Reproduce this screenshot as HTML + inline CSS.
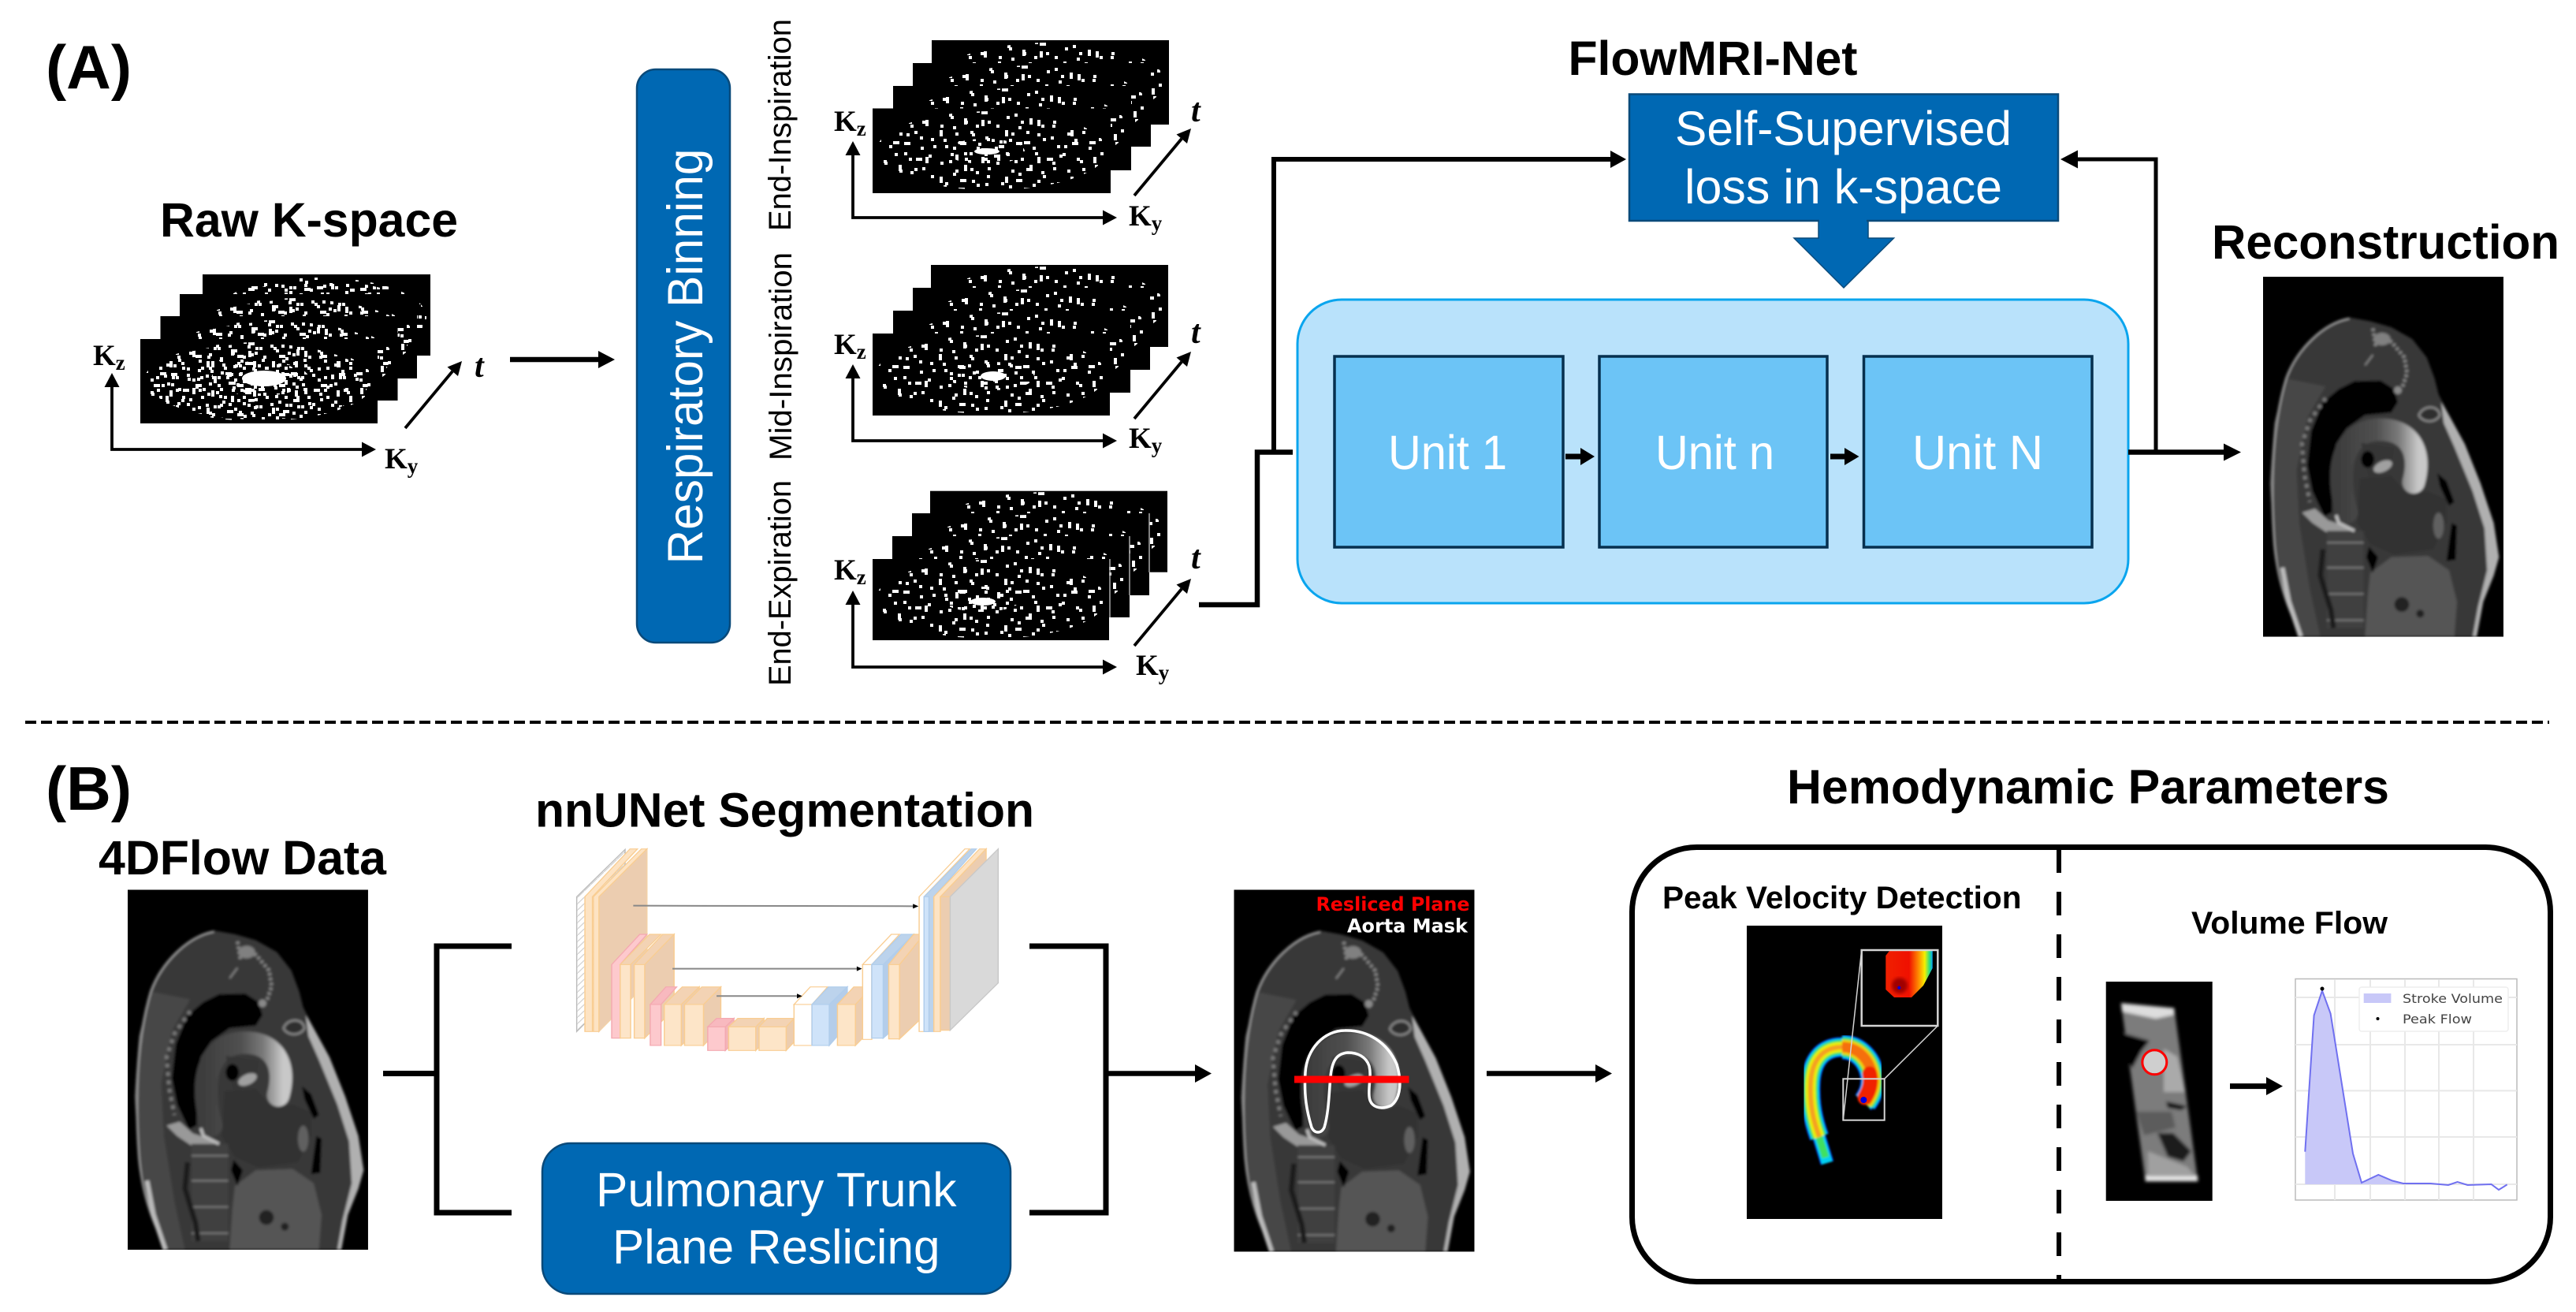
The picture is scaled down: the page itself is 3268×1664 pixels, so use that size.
<!DOCTYPE html>
<html><head><meta charset="utf-8"><title>FlowMRI-Net pipeline</title>
<style>html,body{margin:0;padding:0;background:#fff}svg{display:block}
.b{font-family:"Liberation Sans",sans-serif;font-weight:700;fill:#000}
.n{font-family:"Liberation Sans",sans-serif;fill:#fff}
.k{font-family:"Liberation Serif",serif;font-weight:700;fill:#000;font-size:37px}
.k tspan{font-size:27px}
.t{font-family:"Liberation Serif",serif;font-weight:700;font-style:italic;fill:#000;font-size:42px}
.v{font-family:"Liberation Sans",sans-serif;fill:#000;font-size:40px}
.d{font-family:"DejaVu Sans",sans-serif}
</style></head><body>
<svg xmlns="http://www.w3.org/2000/svg" width="3268" height="1664" viewBox="0 0 3268 1664">
<defs>
<pattern id="d1" patternUnits="userSpaceOnUse" width="83" height="59"><path fill="#fff" d="M3,5h4v4h-4zM17,33h4v8h-4zM29,12h4v4h-4zM41,47h8v4h-8zM55,2h4v4h-4zM63,26h4v4h-4zM75,41h4v4h-4zM9,52h4v4h-4zM34,28h4v4h-4zM48,18h4v8h-4zM70,9h8v4h-8zM22,44h4v4h-4zM58,37h4v4h-4zM78,21h4v4h-4z"/></pattern>
<pattern id="d2" patternUnits="userSpaceOnUse" width="71" height="47"><path fill="#fff" d="M6,14h4v4h-4zM19,3h4v4h-4zM31,36h8v4h-8zM44,22h4v4h-4zM58,8h4v8h-4zM65,31h4v4h-4zM12,40h4v4h-4zM37,9h4v4h-4zM52,42h4v4h-4zM25,24h4v4h-4z"/></pattern>
<pattern id="d3" patternUnits="userSpaceOnUse" width="53" height="37"><path fill="#fff" d="M4,8h4v4h-4zM15,27h4v4h-4zM26,3h8v4h-8zM33,18h4v4h-4zM46,11h4v8h-4zM49,30h4v4h-4zM9,18h4v4h-4zM22,33h4v4h-4zM39,28h4v4h-4zM30,9h4v4h-4zM1,30h4v4h-4zM43,1h4v4h-4z"/></pattern>
<filter id="bl" x="-2%" y="-2%" width="104%" height="104%"><feGaussianBlur stdDeviation="5"/></filter>
<filter id="bl2" x="-10%" y="-10%" width="120%" height="120%"><feGaussianBlur stdDeviation="1.200"/></filter>
<filter id="bl3" x="-10%" y="-10%" width="120%" height="120%"><feGaussianBlur stdDeviation="2"/></filter>
<clipPath id="mc"><rect x="152" y="63" width="915" height="1370"/></clipPath>
<linearGradient id="arch" gradientUnits="userSpaceOnUse" x1="430" y1="0" x2="770" y2="0"><stop offset="0" stop-color="#3c3c3c"/><stop offset=".45" stop-color="#505050"/><stop offset=".7" stop-color="#7a7a7a"/><stop offset=".92" stop-color="#c8c8c8"/></linearGradient>
<linearGradient id="ins" gradientUnits="userSpaceOnUse" x1="2392" y1="0" x2="2452" y2="0"><stop offset="0" stop-color="#f02000"/><stop offset=".5" stop-color="#f01000"/><stop offset=".7" stop-color="#ff8c00"/><stop offset=".83" stop-color="#f5f000"/><stop offset=".93" stop-color="#30e080"/><stop offset="1" stop-color="#00a0ff"/></linearGradient>
<pattern id="hatch" patternUnits="userSpaceOnUse" width="20" height="24"><rect width="20" height="24" fill="#fff"/><path d="M0,24L20,0" stroke="#ccc" stroke-width="3"/></pattern>
<path id="up" d="M2308,1442C2300,1420 2296,1400 2297,1375C2298,1345 2312,1328 2337,1328C2358,1328 2372,1345 2377,1363C2382,1380 2374,1392 2366,1398"/>
<path id="rt" d="M2337,1328C2358,1328 2372,1345 2375,1363C2378,1378 2372,1390 2366,1398"/>
<g id="ax"><path d="M0,-85V0H322" fill="none" stroke="#000" stroke-width="3.800"/><path d="M0,-97L-9.500,-79H9.500Z"/><path d="M335,0L317,-9.500V9.500Z"/></g>
<g id="ta"><path d="M0,0L60,-72" stroke="#000" stroke-width="3.800"/><path d="M72,-85L67,-66L53.500,-77.500Z"/></g>
<g id="mri" clip-path="url(#mc)">
<rect x="152" y="63" width="915" height="1370" fill="#000"/>
<g filter="url(#bl)">
<path d="M480,218L560,232L640,255L720,300L775,370L805,450L820,510L860,590L920,700L980,850L1030,1000L1050,1130L1030,1200L990,1300L965,1433L295,1433L235,1280L195,1080L178,850L195,620L240,450L300,340L390,255Z" fill="#383838"/>
<path d="M240,450L195,620L178,850L195,1080L235,1280L295,1433L370,1433L330,1250L290,1000L280,800L320,600L390,480Z" fill="#464646"/>
<path d="M830,540L860,590L920,700L980,850L1030,1000L1050,1130L1030,1200L990,1300L965,1433L950,1433L970,1320L1005,1180L995,1020L950,880L880,710L840,620Z" fill="#b0b0b0"/>
<path d="M480,222C380,240 280,340 240,450C195,600 175,800 195,1080C210,1250 260,1350 300,1433" fill="none" stroke="#999" stroke-width="8"/>
<path d="M225,1170L250,1300L295,1433" fill="none" stroke="#bbb" stroke-width="18"/>
<path d="M500,460L600,458L650,490L665,540L640,580L540,590L470,640L430,700L415,800L415,960L385,975L340,880L320,780L335,650L380,540L440,490Z" fill="#030303"/>
<path d="M390,525L330,610L300,700L310,820L330,920" fill="none" stroke="#7a7a7a" stroke-width="14" stroke-dasharray="14 18"/>
<path d="M300,960L350,945L400,990L430,1000L495,1030L400,1040L340,1000Z" fill="#999"/>
<path d="M570,260L580,320L640,310L690,370L700,430L680,490" fill="none" stroke="#888" stroke-width="13" stroke-dasharray="10 9"/>
<ellipse cx="605" cy="300" rx="32" ry="24" fill="#808080"/><circle cx="665" cy="495" r="15" fill="#8a8a8a"/>
<path d="M540,400L570,360" stroke="#888" stroke-width="6"/>
<path d="M745,590C760,550 820,550 825,590C810,620 760,620 745,590Z" fill="#2e2e2e" stroke="#888" stroke-width="8"/>
<path d="M560,1190L640,1130L780,1125L860,1180L890,1300L880,1433L540,1433L550,1280Z" fill="#555"/>
<path d="M520,830L640,820L700,890L780,880L850,910L850,1000L800,1100L650,1120L560,1080L510,1000Z" fill="#333"/>
<ellipse cx="820" cy="1010" rx="20" ry="50" fill="#606060"/>
<circle cx="680" cy="1310" r="28" fill="#222"/><circle cx="750" cy="1345" r="15" fill="#222"/>
<path d="M470,960C420,770 470,650 590,645C700,640 760,720 725,845" fill="none" stroke="url(#arch)" stroke-width="86" stroke-linecap="round"/>
<path d="M525,695L650,715L640,800L555,830Z" fill="#343434"/>
<ellipse cx="550" cy="758" rx="25" ry="32" fill="#000"/>
<ellipse cx="608" cy="785" rx="38" ry="20" fill="#a0a0a0" transform="rotate(-25 608 785)"/>
<path d="M815,810L850,840L880,920L860,935L825,860Z" fill="#000"/>
<path d="M870,1000L890,1010L885,1140L850,1145L860,1070Z" fill="#000"/>
<path d="M555,1090L590,1130L570,1190L545,1130Z" fill="#000"/>
<rect x="395" y="1030" width="140" height="370" fill="#414141"/>
<path d="M395,1075H535M395,1170H535M395,1270H535M395,1370H535" stroke="#7d7d7d" stroke-width="6"/>
<path d="M380,1100L370,1200L410,1330L420,1400" fill="none" stroke="#1e1e1e" stroke-width="20"/>
<path d="M430,970L440,1000L500,1030" fill="none" stroke="#bbb" stroke-width="12"/>
</g></g>
<g id="ke"><ellipse cx="0" cy="0" rx="146" ry="50" fill="url(#d1)"/><ellipse cx="0" cy="0" rx="146" ry="50" fill="url(#d2)"/></g>
<g id="kr"><ellipse cx="0" cy="0" rx="146" ry="50" fill="url(#d1)"/><ellipse cx="0" cy="0" rx="146" ry="50" fill="url(#d2)"/><ellipse cx="0" cy="0" rx="140" ry="48" fill="url(#d3)"/></g>
</defs>
<rect width="3268" height="1664" fill="#fff"/>

<!-- Labels A -->
<text class="b" x="58" y="112" font-size="78" textLength="109" lengthAdjust="spacingAndGlyphs">(A)</text>
<text class="b" x="203" y="300" font-size="61" textLength="378" lengthAdjust="spacingAndGlyphs">Raw K-space</text>

<!-- Raw stack -->
<g>
<rect x="257" y="348" width="289" height="103"/><ellipse cx="405" cy="402" rx="136" ry="50" fill="url(#d1)"/><ellipse cx="405" cy="402" rx="136" ry="50" fill="url(#d2)"/><ellipse cx="405" cy="402" rx="130" ry="46" fill="url(#d3)"/>
<rect x="228" y="373" width="301" height="107"/><use href="#kr" x="380" y="428"/>
<rect x="203.500" y="401" width="301" height="107"/><use href="#kr" x="354" y="456"/>
<rect x="178" y="430" width="301" height="107"/><use href="#kr" x="328" y="484"/>
<ellipse cx="310" cy="482" rx="75" ry="28" fill="url(#d2)"/><ellipse cx="330" cy="480" rx="62" ry="22" fill="url(#d3)"/><ellipse cx="335" cy="480" rx="28" ry="10" fill="#fff"/>
</g>
<use href="#ax" x="142" y="570"/><use href="#ta" x="514" y="543"/>
<text class="k" x="118" y="463">K<tspan dy="6">z</tspan></text>
<text class="k" x="488" y="594">K<tspan dy="6">y</tspan></text>
<text class="t" x="602" y="478">t</text>
<path d="M647,456H762" stroke="#000" stroke-width="6.500"/><path d="M780,456L759,445V467Z"/>

<!-- Respiratory box -->
<rect x="808" y="88" width="118" height="727" rx="24" fill="#0068b3" stroke="#0a4a7a" stroke-width="2.500"/>
<text class="n" font-size="63" transform="translate(891,715.500) rotate(-90)" textLength="527" lengthAdjust="spacingAndGlyphs">Respiratory Binning</text>
<text class="v" transform="translate(1003,293) rotate(-90)" textLength="269" lengthAdjust="spacingAndGlyphs">End-Inspiration</text>
<text class="v" transform="translate(1004,584) rotate(-90)" textLength="264" lengthAdjust="spacingAndGlyphs">Mid-Inspiration</text>
<text class="v" transform="translate(1003,870) rotate(-90)" textLength="261" lengthAdjust="spacingAndGlyphs">End-Expiration</text>

<!-- Stack 1 -->
<g>
<rect x="1182" y="51" width="301" height="107"/><use href="#ke" x="1332" y="104"/>
<rect x="1158" y="80" width="302" height="106"/><use href="#ke" x="1309" y="133"/>
<rect x="1133" y="109" width="302" height="107"/><use href="#ke" x="1284" y="162"/>
<rect x="1107" y="137.500" width="302" height="107.500"/><use href="#ke" x="1258" y="191"/>
<ellipse cx="1250" cy="192" rx="50" ry="16" fill="url(#d3)"/><ellipse cx="1252" cy="192" rx="16" ry="4" fill="#fff"/>
</g>
<use href="#ax" x="1082" y="276"/><use href="#ta" x="1439" y="248"/>
<text class="k" x="1058" y="166">K<tspan dy="6">z</tspan></text>
<text class="k" x="1432" y="286">K<tspan dy="6">y</tspan></text>
<text class="t" x="1511" y="154">t</text>

<!-- Stack 2 -->
<g>
<rect x="1181" y="336" width="301" height="104"/><use href="#ke" x="1332" y="388"/>
<rect x="1158" y="365" width="301" height="104"/><use href="#ke" x="1308" y="417"/>
<rect x="1133" y="394" width="301" height="104"/><use href="#ke" x="1284" y="446"/>
<rect x="1107" y="423" width="301" height="104"/><use href="#ke" x="1257" y="475"/>
<ellipse cx="1258" cy="477" rx="55" ry="18" fill="url(#d3)"/><ellipse cx="1260" cy="477" rx="16" ry="6" fill="#fff"/>
</g>
<use href="#ax" x="1082" y="559"/><use href="#ta" x="1439" y="531"/>
<text class="k" x="1058" y="449">K<tspan dy="6">z</tspan></text>
<text class="k" x="1432" y="568">K<tspan dy="6">y</tspan></text>
<text class="t" x="1511" y="435">t</text>

<!-- Stack 3 -->
<g>
<rect x="1180" y="622.700" width="301" height="103"/><use href="#ke" x="1330" y="674"/>
<rect x="1157" y="651" width="301" height="104"/><use href="#ke" x="1307" y="703"/>
<rect x="1132" y="680" width="301" height="103"/><use href="#ke" x="1283" y="731"/>
<rect x="1107" y="709" width="300" height="103"/><use href="#ke" x="1257" y="760"/>
<ellipse cx="1245" cy="760" rx="50" ry="16" fill="url(#d3)"/><ellipse cx="1247" cy="763" rx="16" ry="5" fill="#fff"/>
<path d="M1458,651V726M1433,680V755M1408,709V783" stroke="#aaa" stroke-width="1.500"/>
</g>
<use href="#ax" x="1082" y="846"/><use href="#ta" x="1439" y="819"/>
<text class="k" x="1058" y="735">K<tspan dy="6">z</tspan></text>
<text class="k" x="1441" y="856">K<tspan dy="6">y</tspan></text>
<text class="t" x="1511" y="721">t</text>

<!-- connectors A -->
<path d="M1521,767H1595V573.500H1640" fill="none" stroke="#000" stroke-width="6.500"/>
<path d="M1616,573.500V202H2045" fill="none" stroke="#000" stroke-width="6"/>
<path d="M2063,202L2043,191V213Z"/>

<!-- big unit box -->
<rect x="1646" y="380" width="1054" height="385" rx="56" fill="#b9e2fb" stroke="#0aa5ee" stroke-width="3"/>
<g fill="#6cc4f6" stroke="#06304f" stroke-width="3.500">
<rect x="1693" y="452" width="290" height="242"/><rect x="2029" y="452" width="289" height="242"/><rect x="2364.500" y="452" width="289.500" height="242"/>
</g>
<text class="n" x="1761" y="595" font-size="61" textLength="151" lengthAdjust="spacingAndGlyphs">Unit 1</text>
<text class="n" x="2100" y="595" font-size="61" textLength="151" lengthAdjust="spacingAndGlyphs">Unit n</text>
<text class="n" x="2426" y="595" font-size="61" textLength="166" lengthAdjust="spacingAndGlyphs">Unit N</text>
<path d="M1986,579H2008M2322,579H2343" stroke="#000" stroke-width="7"/>
<path d="M2023,579L2005,568V590ZM2358.500,579L2340,568V590Z"/>

<!-- loss box -->
<text class="b" x="1989.500" y="95" font-size="61" textLength="367" lengthAdjust="spacingAndGlyphs">FlowMRI-Net</text>
<path d="M2307,280V302H2276L2339,365L2402.500,302H2370V280Z" fill="#0068b3" stroke="#0a4a7a" stroke-width="1.500"/>
<rect x="2067" y="119.500" width="544" height="160.500" fill="#0068b3" stroke="#0a4a7a" stroke-width="2.500"/>
<path d="M2308,278V300H2368V278Z" fill="#0068b3"/>
<text class="n" x="2125" y="184" font-size="61" textLength="427" lengthAdjust="spacingAndGlyphs">Self-Supervised</text>
<text class="n" x="2137" y="258" font-size="61" textLength="403" lengthAdjust="spacingAndGlyphs">loss in k-space</text>

<!-- feedback/output -->
<path d="M2735,573.500V202H2630" fill="none" stroke="#000" stroke-width="5"/>
<path d="M2614,202L2636,190.500V213.500Z"/>
<path d="M2700,573.500H2825" stroke="#000" stroke-width="6.500"/>
<path d="M2843,573.500L2821,562.500V584.500Z"/>
<text class="b" x="2806" y="328" font-size="61" textLength="441" lengthAdjust="spacingAndGlyphs">Reconstruction</text>
<use href="#mri" transform="translate(2871,351) scale(.3333) translate(-152,-63)"/>

<!-- divider -->
<path d="M32,916H3234" stroke="#000" stroke-width="4" stroke-dasharray="14 6"/>

<!-- B -->
<text class="b" x="58" y="1027" font-size="78" textLength="109" lengthAdjust="spacingAndGlyphs">(B)</text>
<text class="b" x="125" y="1109" font-size="61" textLength="365" lengthAdjust="spacingAndGlyphs">4DFlow Data</text>
<use href="#mri" transform="translate(162,1128.500) scale(.3333) translate(-152,-63)"/>
<path d="M486,1361.500H554M649,1200H554V1538H649" fill="none" stroke="#000" stroke-width="7"/>
<text class="b" x="679" y="1048.500" font-size="61" textLength="633" lengthAdjust="spacingAndGlyphs">nnUNet Segmentation</text>

<!-- UNet -->
<g transform="translate(650,1050) scale(.4145,.3333)" stroke-width="3.500">
<g fill="#fde5c8" stroke="#f9cd92">
<path d="M197,262L345,82V590L197,775Z" fill="url(#hatch)" stroke="#bbb"/>
<path d="M222,262L360,80H383L245,262V775H222Z" fill="#fde3c3"/>
<path d="M265,262L412,80V590L265,775Z" fill="#eccdb0" stroke="#f3d2a8"/>
<path d="M248,262L395,80H412L265,262V775H248Z" fill="#fde3c3"/>
<g fill="#f3b4b9" stroke="#f4a9b0"><path d="M304,520L390,405H412L330,520V800H304Z" fill="#fdc9cd"/></g>
<path d="M330,520H362V800H330Z"/><path d="M330,520L420,405H455L362,520Z" fill="#f3d3b4"/>
<path d="M405,520L495,405V690L405,800Z" fill="#eccdb0"/>
<path d="M373,520H405V800H373Z"/><path d="M373,520L460,405H495L405,520Z" fill="#f3d3b4"/>
<path d="M422,672H455V828H422Z" fill="#fdc9cd" stroke="#f4a9b0"/><path d="M422,672L470,605H503L455,672Z" fill="#f8b9bf" stroke="#f4a9b0"/>
<path d="M517,672L572,605V760L517,828Z" fill="#eccdb0"/><path d="M465,672H517V828H465Z"/><path d="M465,672L520,605H572L517,672Z" fill="#f3d3b4"/>
<path d="M585,672L638,605V760L585,828Z" fill="#eccdb0"/><path d="M527,672H585V828H527Z"/><path d="M527,672L580,605H638L585,672Z" fill="#f3d3b4"/>
<path d="M652,757L678,725V815L652,847Z" fill="#f3b4b9" stroke="#f4a9b0"/><path d="M598,757H652V847H598Z" fill="#fdc9cd" stroke="#f4a9b0"/><path d="M598,757L625,725H678L652,757Z" fill="#f8b9bf" stroke="#f4a9b0"/>
<path d="M745,757L770,725V815L745,847Z" fill="#eccdb0"/><path d="M662,757H745V847H662Z"/><path d="M662,757L690,725H770L745,757Z" fill="#f3d3b4"/>
<path d="M838,757L862,725V815L838,847Z" fill="#eccdb0"/><path d="M755,757H838V847H755Z"/><path d="M755,757L780,725H862L838,757Z" fill="#f3d3b4"/>
<path d="M862,672H917V828H862Z" fill="#fff"/><path d="M862,672L912,605H965L917,672Z" fill="#fff"/>
<path d="M970,672L1025,605V750L970,828Z" fill="#b4cdea" stroke="#b0cdec"/><path d="M917,672H970V828H917Z" fill="#cfe3f9" stroke="#b0cdec"/><path d="M917,672L968,605H1025L970,672Z" fill="#bcd3ec" stroke="#b0cdec"/>
<path d="M1050,672L1100,605V765L1050,828Z" fill="#eccdb0"/><path d="M995,672H1050V828H995Z"/><path d="M995,672L1045,605H1100L1050,672Z" fill="#f3d3b4"/>
<path d="M1072,520H1100V805H1072Z" fill="#fff"/><path d="M1072,520L1160,405H1185L1100,520Z" fill="#fff"/>
<path d="M1135,520L1228,405V700L1135,800Z" fill="#b4cdea" stroke="#b0cdec"/><path d="M1100,520H1135V800H1100Z" fill="#cfe3f9" stroke="#b0cdec"/><path d="M1100,520L1190,405H1228L1135,520Z" fill="#bcd3ec" stroke="#b0cdec"/>
<path d="M1185,520L1260,405V715L1185,803Z" fill="#eccdb0"/><path d="M1152,520H1185V803H1152Z"/><path d="M1152,520L1228,405H1260L1185,520Z" fill="#f3d3b4"/>
<path d="M1245,262L1385,80H1400L1260,262V775H1245Z" fill="#fff"/>
<path d="M1260,262L1405,80H1420L1290,262V775H1260Z" fill="#bcd3ec" stroke="#b0cdec"/>
<path d="M1260,262H1275V775H1260Z" fill="#cfe3f9" stroke="#b0cdec"/>
<path d="M1310,262L1450,80V590L1340,735V262Z" fill="#eccdb0"/>
<path d="M1290,262L1430,80H1450L1310,262V775H1290Z" fill="#fde3c3"/>
<path d="M1310,262H1340V770H1310Z" fill="#eccdb0"/>
<path d="M1340,262L1487,80V590L1340,770Z" fill="#d9d9d9" stroke="#c8c8c8"/>
</g>
<path d="M370,296L1228,298M490,536L1056,536M625,640L873,640" stroke="#888" stroke-width="6" fill="none"/>
<path d="M1243,298L1226,289V307ZM1070,536L1054,527V545ZM887,640L871,631V649Z" fill="#000"/>
</g>

<!-- pulmonary box -->
<rect x="688" y="1450" width="594" height="191" rx="36" fill="#0068b3" stroke="#0a4a7a" stroke-width="2.500"/>
<text class="n" x="756" y="1530" font-size="61" textLength="457.500" lengthAdjust="spacingAndGlyphs">Pulmonary Trunk</text>
<text class="n" x="777" y="1602.500" font-size="61" textLength="415.500" lengthAdjust="spacingAndGlyphs">Plane Reslicing</text>
<path d="M1306,1200H1403V1538H1306" fill="none" stroke="#000" stroke-width="7"/>
<path d="M1403,1361.500H1520" stroke="#000" stroke-width="6.500"/><path d="M1537,1361.500L1516,1350V1373Z"/>

<!-- seg image -->
<use href="#mri" transform="translate(1565.500,1128.500) scale(.3333,.3350) translate(-152,-63)"/>
<path d="M1664,1430C1658,1410 1654,1390 1656,1360C1658,1330 1680,1307 1706,1307C1735,1306 1760,1322 1772,1350C1778,1370 1778,1392 1765,1402C1752,1408 1738,1405 1737,1390C1736,1375 1740,1365 1737,1352C1733,1340 1722,1335 1710,1335C1696,1336 1690,1345 1688,1365C1686,1385 1686,1410 1680,1430C1676,1438 1668,1438 1664,1430Z" fill="none" stroke="#fff" stroke-width="3.500" stroke-linejoin="round"/>
<rect x="1642" y="1364.500" width="145.500" height="9" fill="#f00"/>
<text class="d" x="1669.500" y="1155" font-size="24" font-weight="700" fill="#f00" textLength="195" lengthAdjust="spacingAndGlyphs">Resliced Plane</text>
<text class="d" x="1709" y="1182.500" font-size="24" font-weight="700" fill="#fff" textLength="153" lengthAdjust="spacingAndGlyphs">Aorta Mask</text>
<path d="M1886,1361.500H2028" stroke="#000" stroke-width="6.500"/><path d="M2045,1361.500L2024,1350V1373Z"/>

<!-- hemodynamic -->
<text class="b" x="2267" y="1019" font-size="61" textLength="764" lengthAdjust="spacingAndGlyphs">Hemodynamic Parameters</text>
<rect x="2070.500" y="1074.500" width="1165" height="551" rx="82" fill="#fff" stroke="#000" stroke-width="7"/>
<path d="M2612,1077V1626" stroke="#000" stroke-width="6" stroke-dasharray="30 24"/>
<text class="b" x="2109" y="1152" font-size="40" textLength="455.500" lengthAdjust="spacingAndGlyphs">Peak Velocity Detection</text>
<text class="b" x="2780" y="1184" font-size="40" textLength="249" lengthAdjust="spacingAndGlyphs">Volume Flow</text>

<!-- peak image -->
<rect x="2216" y="1174" width="248" height="372" fill="#000"/>
<g filter="url(#bl2)" fill="none">
<path d="M2318,1475L2306,1436" stroke="#0040ff" stroke-width="17"/>
<path d="M2318,1475L2306,1436" stroke="#00d0f0" stroke-width="14"/>
<path d="M2316,1468L2306,1436" stroke="#40e060" stroke-width="9"/>
<use href="#up" stroke="#0040ff" stroke-width="25"/>
<use href="#rt" stroke="#0040ff" stroke-width="31"/>
<use href="#up" stroke="#00c8f0" stroke-width="22"/>
<use href="#rt" stroke="#00c8f0" stroke-width="28"/>
<use href="#up" stroke="#30e060" stroke-width="18"/>
<use href="#rt" stroke="#30e060" stroke-width="24"/>
<use href="#up" stroke="#e8f000" stroke-width="13"/>
<use href="#rt" stroke="#f0d000" stroke-width="19"/>
<use href="#up" stroke="#f5a020" stroke-width="6"/>
<use href="#rt" stroke="#f57010" stroke-width="13"/>
<path d="M2372,1362C2375,1375 2370,1385 2366,1392" stroke="#f02000" stroke-width="19" stroke-linecap="round"/>
</g>
<circle cx="2364.300" cy="1395" r="4" fill="#0000e0"/>
<path d="M2397,1206H2451.700V1228L2440,1250L2425,1265H2403L2392.300,1255V1212Z" fill="url(#ins)"/>
<circle cx="2410" cy="1250" r="10" fill="#a00000" filter="url(#bl3)"/>
<circle cx="2409.300" cy="1252.700" r="2" fill="#0000e0"/>
<g fill="none" stroke="#d4d4d4" stroke-width="2">
<rect x="2361.700" y="1205" width="96.600" height="96" stroke-width="2.500"/>
<rect x="2338.300" y="1368.300" width="52.400" height="52.400"/>
<path d="M2361.700,1205L2338.300,1420.700M2458.300,1301L2390.700,1368.300" stroke-width="1.500"/>
</g>

<!-- slice -->
<rect x="2671.700" y="1245" width="135" height="278" fill="#000"/>
<g filter="url(#bl3)">
<path d="M2690.700,1271.700L2758.300,1278.300L2788.300,1498.300H2721.700Z" fill="#7c7c7c"/>
<path d="M2691,1273L2758,1279L2758,1287L2735,1292L2692,1283Z" fill="#ddd"/>
<path d="M2722,1491H2788L2788.300,1498.300H2721.700Z" fill="#e8e8e8"/>
<path d="M2692,1310L2727,1320L2716.700,1333L2705,1355L2694,1340Z" fill="#000"/>
<path d="M2748,1397L2775,1403L2767,1408L2750,1405Z" fill="#0a0a0a"/>
<path d="M2737,1437L2757,1437L2780,1460L2770,1473L2750,1467Z" fill="#1e1e1e"/>
<path d="M2745,1330L2762,1340L2772,1385L2745,1385Z" fill="#aaa"/>
<path d="M2710,1410L2755,1410L2760,1430L2720,1440Z" fill="#5c5c5c"/>
<path d="M2725,1460L2775,1480L2785,1492H2725Z" fill="#a0a0a0"/>
</g>
<circle cx="2733.300" cy="1347.300" r="14" fill="#cfcfcf"/>
<circle cx="2733.300" cy="1347.300" r="15.500" fill="none" stroke="#f00" stroke-width="3"/>
<path d="M2829,1377.600H2880" stroke="#000" stroke-width="7"/><path d="M2896,1377.600L2875,1366V1389Z"/>

<!-- chart -->
<rect x="2912" y="1241.500" width="281" height="280.500" fill="#fff" stroke="#bbb" stroke-width="1.500"/>
<path d="M2962,1242V1522M3007,1242V1522M3051,1242V1522M3094,1242V1522M3138,1242V1522M2912,1265H3193M2912,1325H3193M2912,1383.400H3193M2912,1442H3193M2912,1502H3193" stroke="#e8e8e8" stroke-width="2" fill="none"/>
<path d="M2924.300,1460.700L2935.600,1287.800L2946,1256.400L2956.600,1285.500L2985,1463L2996,1500L3017.300,1490L3035,1497.500L3049,1501H3083.600L3090,1502H2924.300Z" fill="#c8c8f8"/>
<path d="M2924.300,1460.700L2935.600,1287.800L2946,1256.400L2956.600,1285.500L2985,1463L2996,1500L3017.300,1490L3035,1497.500L3049,1501H3083.600L3106,1503L3117.600,1499L3130.500,1503L3160.500,1502L3170,1509L3180.600,1502.400" fill="none" stroke="#7070f0" stroke-width="2"/>
<circle cx="2946" cy="1254" r="2.500" fill="#000"/>
<rect x="2993" y="1252" width="189" height="56" rx="3" fill="#fff" stroke="#eee" stroke-width="1.500"/>
<rect x="2998.700" y="1260" width="34.700" height="12" fill="#c8c8f8"/>
<text class="d" x="3048" y="1272" font-size="16" fill="#444" textLength="127" lengthAdjust="spacingAndGlyphs">Stroke Volume</text>
<circle cx="3016.500" cy="1292" r="2" fill="#000"/>
<text class="d" x="3048" y="1298" font-size="16" fill="#444" textLength="88" lengthAdjust="spacingAndGlyphs">Peak Flow</text>
</svg>
</body></html>
